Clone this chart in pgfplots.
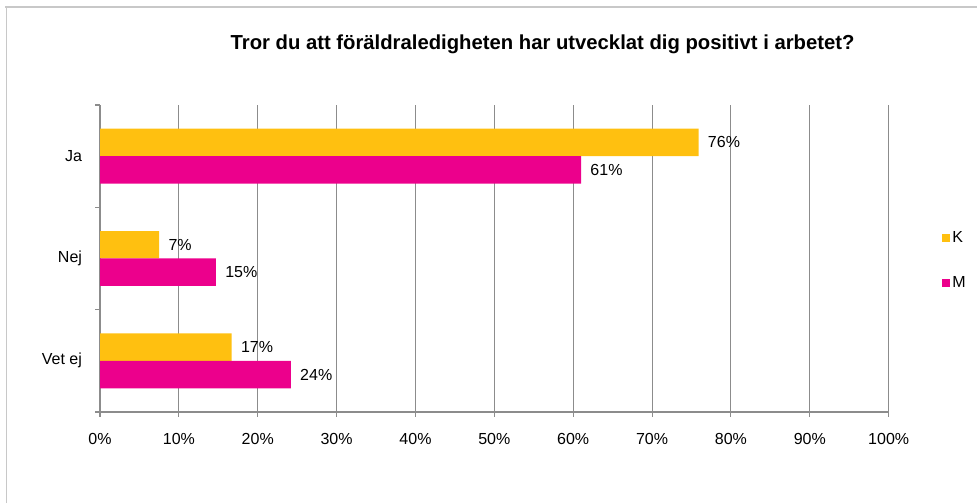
\documentclass[border=0pt]{standalone}
\usepackage{pgfplots}
\pgfplotsset{compat=1.18}
\usepackage{fontspec}
\setmainfont{Liberation Sans}
\definecolor{kcol}{RGB}{255,192,16}
\definecolor{mcol}{RGB}{236,0,140}
\definecolor{gridc}{RGB}{140,140,140}
\definecolor{framec}{RGB}{200,200,200}
\pgfplotstableread{
y K Klab M Mlab
2 75.9 76\% 61.0 61\%
1 7.5 7\% 14.7 15\%
0 16.7 17\% 24.2 24\%
}\datatable
\begin{document}
\begin{tikzpicture}
\useasboundingbox (0,0) rectangle (732.75pt,377.25pt);
\draw[framec, line width=0.9pt] (3.75pt,372pt) -- (732.75pt,372pt);
\draw[framec, line width=0.9pt] (5pt,0pt) -- (5pt,372pt);
\node[font=\fontsize{15.2}{18}\selectfont\bfseries] at (406.9pt,344.25pt) {Tror du att föräldraledigheten har utvecklat dig positivt i arbetet?};
\begin{axis}[
  at={(75pt,68.25pt)}, anchor=south west,
  width=591.5pt, height=230.25pt, scale only axis,
  xbar, bar width=20.6pt,
  xmin=0, xmax=100, ymin=-0.5, ymax=2.5,
  axis x line*=bottom, axis y line*=left,
  axis line style={gridc, line width=0.8pt},
  xtick={0,10,...,100},
  xticklabel={\pgfmathprintnumber{\tick}\%},
  xmajorgrids, major grid style={gridc, line width=0.8pt},
  ytick={0,1,2}, yticklabels={Vet ej,Nej,Ja},
  minor ytick={-0.5,0.5,1.5,2.5},
  tick align=outside,
  major tick length=3.5pt, minor tick length=3.5pt,
  major y tick style={draw=none},
  minor y tick style={gridc, line width=0.8pt},
  major x tick style={gridc, line width=0.8pt},
  /pgf/number format/assume math mode=true,
  tick label style={font=\fontsize{12}{14}\selectfont},
  yticklabel style={xshift=-6.5pt},
  xticklabel style={yshift=-9pt},
  nodes near coords,
  point meta=explicit symbolic,
  every node near coord/.append style={font=\fontsize{12}{14}\selectfont, anchor=west, xshift=3.5pt, black},
  legend style={at={(1.067,0.492)}, anchor=west, draw=none, fill=none,
    font=\fontsize{12}{14}\selectfont, row sep=20pt, inner sep=0pt,
    /tikz/every even column/.append style={column sep=2pt}},
  legend cell align=left,
  legend image code/.code={\fill[#1] (0pt,-3pt) rectangle (6pt,3pt);},
  clip=false,
]
\addplot[draw=none, fill=kcol, bar shift=10.3pt] table[x=K, y=y, meta=Klab] {\datatable};
\addplot[draw=none, fill=mcol, bar shift=-10.3pt] table[x=M, y=y, meta=Mlab] {\datatable};
\legend{K,M}
\end{axis}
\end{tikzpicture}
\end{document}
